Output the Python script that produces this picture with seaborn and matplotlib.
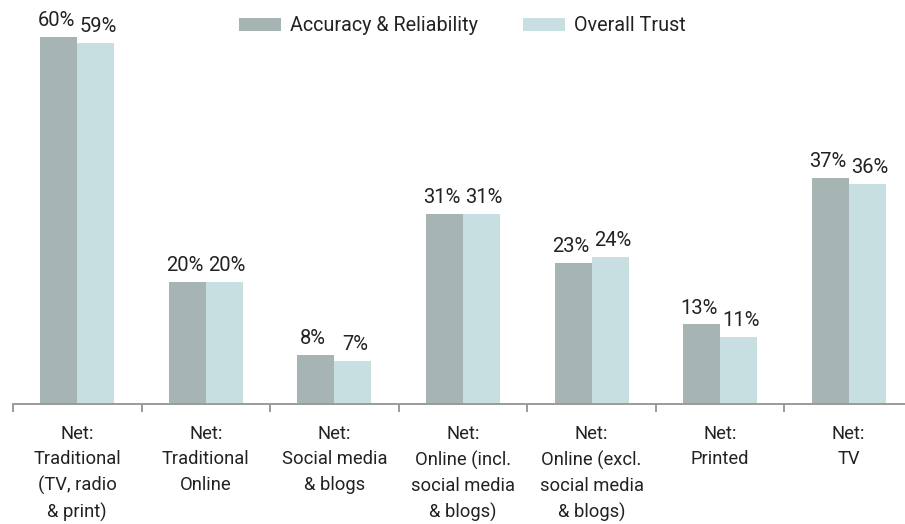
import matplotlib
matplotlib.use("Agg")
import matplotlib.pyplot as plt
import seaborn as sns
import pandas as pd
from matplotlib.patches import Patch

categories = ["Net:\nTraditional\n(TV, radio\n& print)", "Net:\nTraditional\nOnline",
              "Net:\nSocial media\n& blogs", "Net:\nOnline (incl.\nsocial media\n& blogs)",
              "Net:\nOnline (excl.\nsocial media\n& blogs)", "Net:\nPrinted", "Net:\nTV"]
series = ["Accuracy & Reliability", "Overall Trust"]
accuracy = [60, 20, 8, 31, 23, 13, 37]
trust = [59, 20, 7, 31, 24, 11, 36]
colors = ["#a6b4b4", "#c8dfe1"]

df = pd.DataFrame({
    "cat": categories * 2,
    "series": [series[0]] * len(categories) + [series[1]] * len(categories),
    "value": accuracy + trust,
})

sns.set_theme(style="white")
plt.rcParams["font.family"] = ["Roboto", "DejaVu Sans"]
text_color = "#222222"

fig = plt.figure(figsize=(9.05, 5.24), dpi=100)
ax = fig.add_axes([13 / 905, 120 / 524, 900 / 905, 404 / 524])

sns.barplot(data=df, x="cat", y="value", hue="series", order=categories,
            hue_order=series, palette=colors, width=0.575, gap=0,
            saturation=1, linewidth=0, ax=ax, legend=False)

ax.set_xlim(-0.5, len(categories) - 0.5)
ax.set_ylim(0, 66.05)
for k, c in enumerate(ax.containers):
    anns = ax.bar_label(c, labels=[f"{v:.0f}%" for v in c.datavalues], padding=5,
                        fontsize=14.5, color=text_color)
    dx = -2.0 if k == 0 else 2.0
    for a in anns:
        a.xyann = (dx, a.xyann[1])

for s in ["top", "right", "left"]:
    ax.spines[s].set_visible(False)
ax.spines["bottom"].set_color("#9a9a9a")
ax.spines["bottom"].set_linewidth(1.4)
ax.set_yticks([])
ax.set_xlabel("")
ax.set_ylabel("")

# boundary ticks (major) and centered labels (minor)
ax.set_xticks([i - 0.5 for i in range(len(categories) + 1)])
ax.set_xticklabels([])
ax.tick_params(axis="x", which="major", bottom=True, length=6, width=1.4,
               color="#9a9a9a", direction="out")
ax.set_xticks(range(len(categories)), minor=True)
ax.set_xticklabels(categories, minor=True, fontsize=13.2, color=text_color, linespacing=1.53)
ax.tick_params(axis="x", which="minor", bottom=True, length=0, pad=15)

handles = [Patch(facecolor=colors[0], edgecolor="none"), Patch(facecolor=colors[1], edgecolor="none")]
fig.legend(handles, series, loc="center", bbox_to_anchor=(0.511, 0.951), ncol=2,
           frameon=False, fontsize=14.2, handlelength=2.13, handleheight=0.61,
           handletextpad=0.46, columnspacing=2.28, labelcolor=text_color)

fig.savefig("out.png", dpi=100)
